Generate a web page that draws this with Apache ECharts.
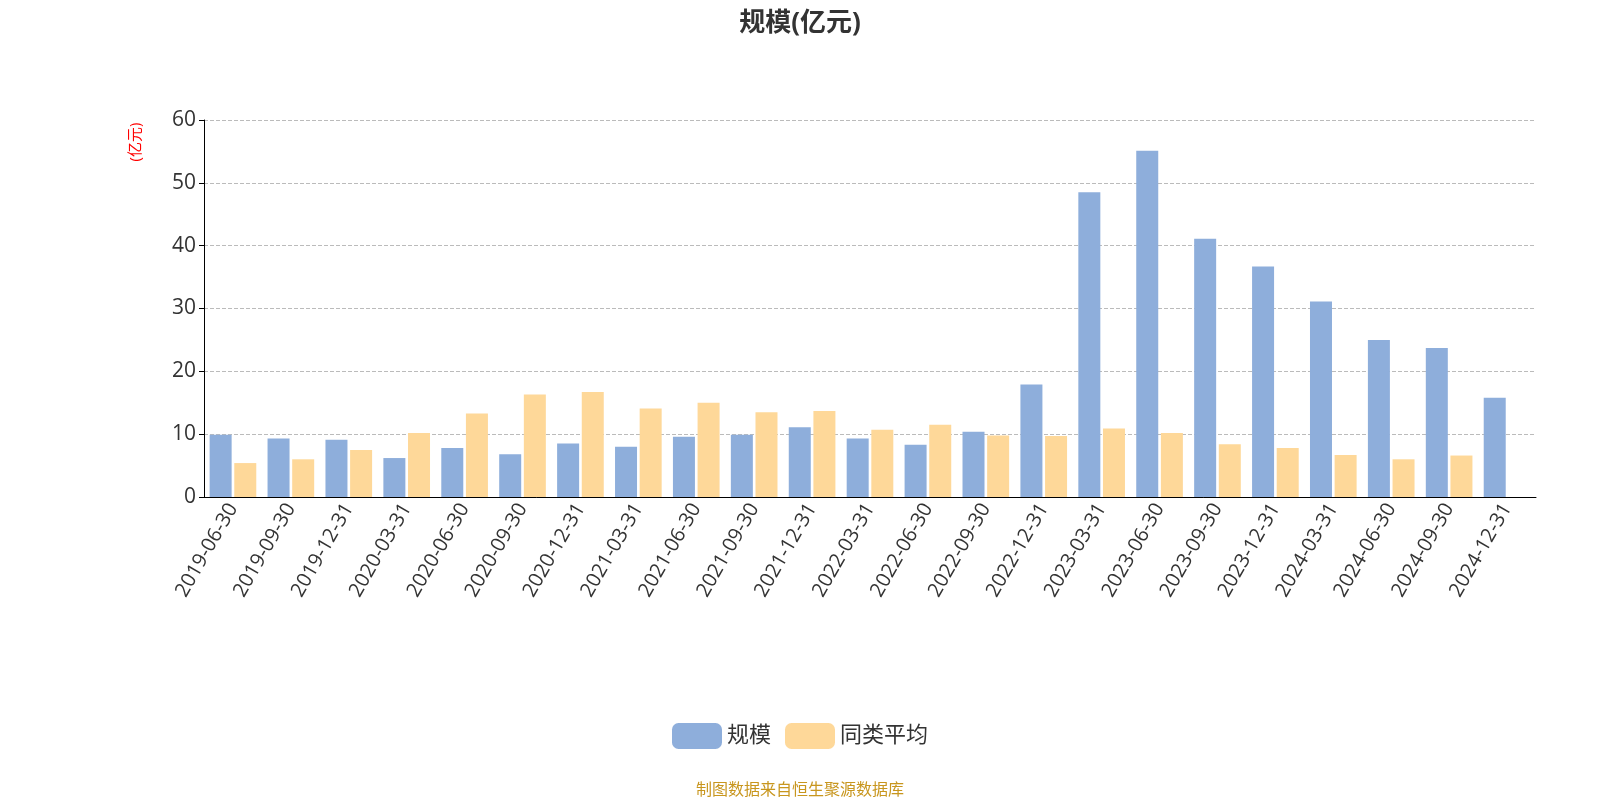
<!DOCTYPE html>
<html><head><meta charset="utf-8">
<script src="https://cdn.jsdelivr.net/npm/echarts@6/dist/echarts.min.js"></script>
<style>html,body{margin:0;padding:0;background:#fff}#c{width:1600px;height:800px}</style>
</head><body><div id="c"></div>
<script>
const categories = ["2019-06-30","2019-09-30","2019-12-31","2020-03-31","2020-06-30","2020-09-30","2020-12-31","2021-03-31","2021-06-30","2021-09-30","2021-12-31","2022-03-31","2022-06-30","2022-09-30","2022-12-31","2023-03-31","2023-06-30","2023-09-30","2023-12-31","2024-03-31","2024-06-30","2024-09-30","2024-12-31"];
const scaleValues = [9.9,9.3,9.1,6.2,7.8,6.8,8.5,8.0,9.6,9.9,11.1,9.3,8.3,10.4,17.9,48.5,55.1,41.1,36.7,31.1,25.0,23.7,15.8];
const avgValues = [5.4,6.0,7.5,10.2,13.3,16.3,16.7,14.1,15.0,13.5,13.7,10.7,11.5,9.8,9.7,10.9,10.2,8.4,7.8,6.7,6.0,6.6,null];
const yTicks = [0,10,20,30,40,50,60];
const font = "'Open Sans','Noto Sans CJK SC',sans-serif";
const chart = echarts.init(document.getElementById('c'));
chart.setOption({
  textStyle:{fontFamily:font},
  title:[{text:'规模(亿元)',left:'center',top:6,textStyle:{fontSize:26,fontWeight:'bold',color:'#333',fontFamily:font}},
         {text:'制图数据来自恒生聚源数据库',left:'center',top:777,textStyle:{fontSize:16,fontWeight:'normal',color:'#c8961e',fontFamily:font}}],
  graphic:[{type:'text',x:136,y:142,rotation:Math.PI/2,style:{text:'(亿元)',fill:'red',fontSize:15,fontFamily:font,align:'center',verticalAlign:'middle'}}],
  legend:{bottom:46,left:'center',itemWidth:50,itemHeight:26,itemGap:14,textStyle:{fontSize:22,color:'#333'},
    data:['规模','同类平均']},
  grid:{left:204,right:64,top:120,bottom:303},
  xAxis:{type:'category',data:categories,
    axisLine:{lineStyle:{color:'#000'}},axisTick:{lineStyle:{color:'#000'}},
    axisLabel:{rotate:60,fontSize:20,color:'#333',interval:0}},
  yAxis:{type:'value',min:0,max:60,interval:10,
    axisLine:{show:true,lineStyle:{color:'#000'}},axisTick:{show:true,lineStyle:{color:'#000'}},
    axisLabel:{fontSize:21,color:'#333'},
    splitLine:{lineStyle:{type:'dashed',color:'#bbb'}}},
  series:[
    {name:'规模',type:'bar',data:scaleValues,barWidth:22,barGap:'12%',itemStyle:{color:'#8eaedb'}},
    {name:'同类平均',type:'bar',data:avgValues,barWidth:22,itemStyle:{color:'#fed899'}}
  ]
});
</script></body></html>
